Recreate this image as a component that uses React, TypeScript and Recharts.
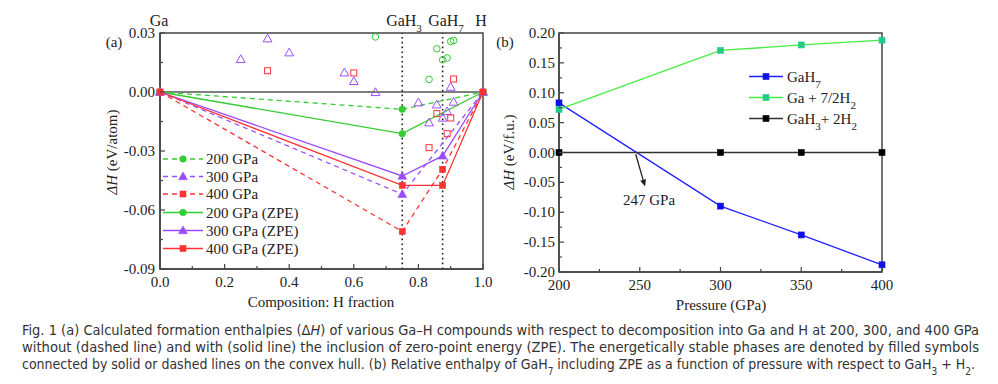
import { ComposedChart, LineChart, Line, Scatter, XAxis, YAxis, ReferenceLine, ReferenceArea } from "recharts";

const serif = "'Liberation Serif', 'Times New Roman', serif";
const narrow = "'Liberation Sans Narrow', 'DejaVu Sans Condensed', 'Liberation Sans', sans-serif";

const green = "#33cc33";
const purple = "#9a4dff";
const red = "#ff3333";
const axisColor = "#444";

// ---- panel (a): convex hull, Ga-H ----
const compTicks = [0, 0.1, 0.2, 0.3, 0.4, 0.5, 0.6, 0.7, 0.8, 0.9, 1];
const atomTicks = [-0.09, -0.075, -0.06, -0.045, -0.03, -0.015, 0, 0.015, 0.03];
const phaseLines = [0.75, 0.875];

const hull200 = [{ x: 0, y: 0 }, { x: 0.75, y: -0.0088 }, { x: 1, y: 0 }];
const hull300 = [{ x: 0, y: 0 }, { x: 0.75, y: -0.052 }, { x: 1, y: 0 }];
const hull400 = [{ x: 0, y: 0 }, { x: 0.75, y: -0.0709 }, { x: 0.875, y: -0.0393 }, { x: 1, y: 0 }];
const hull200zpe = [{ x: 0, y: 0 }, { x: 0.75, y: -0.0212 }, { x: 1, y: 0 }];
const hull300zpe = [{ x: 0, y: 0 }, { x: 0.75, y: -0.0427 }, { x: 0.875, y: -0.0325 }, { x: 1, y: 0 }];
const hull400zpe = [{ x: 0, y: 0 }, { x: 0.75, y: -0.0475 }, { x: 0.875, y: -0.0475 }, { x: 1, y: 0 }];

const open200 = [
  { x: 0.667, y: 0.028 }, { x: 0.833, y: 0.0064 }, { x: 0.857, y: 0.022 }, { x: 0.875, y: 0.0164 },
  { x: 0.889, y: 0.0173 }, { x: 0.9, y: 0.0257 }, { x: 0.909, y: 0.0262 },
];
const open300 = [
  { x: 0.25, y: 0.0166 }, { x: 0.333, y: 0.0271 }, { x: 0.4, y: 0.02 }, { x: 0.571, y: 0.0098 },
  { x: 0.6, y: 0.0054 }, { x: 0.667, y: -0.0002 }, { x: 0.8, y: -0.0054 }, { x: 0.857, y: -0.0065 },
  { x: 0.9, y: 0.0025 }, { x: 0.909, y: -0.0051 }, { x: 0.833, y: -0.0156 }, { x: 0.875, y: -0.0132 },
  { x: 0.889, y: -0.0099 },
];
const open400 = [
  { x: 0.333, y: 0.0108 }, { x: 0.6, y: 0.0097 }, { x: 0.909, y: 0.0066 }, { x: 0.857, y: -0.011 },
  { x: 0.9, y: -0.0132 }, { x: 0.889, y: -0.0212 }, { x: 0.833, y: -0.0283 },
];

const hullSeries = [
  { name: "200 GPa", data: hull200, color: green, dash: "5 4", kind: "circle" },
  { name: "300 GPa", data: hull300, color: purple, dash: "5 4", kind: "triangle" },
  { name: "400 GPa", data: hull400, color: red, dash: "5 4", kind: "square" },
  { name: "200 GPa (ZPE)", data: hull200zpe, color: green, dash: undefined, kind: "circle" },
  { name: "300 GPa (ZPE)", data: hull300zpe, color: purple, dash: undefined, kind: "triangle" },
  { name: "400 GPa (ZPE)", data: hull400zpe, color: red, dash: undefined, kind: "square" },
];

const openSeries = [
  { data: open200, color: green, kind: "circle" },
  { data: open300, color: purple, kind: "triangle" },
  { data: open400, color: red, kind: "square" },
];

// ---- panel (b): relative enthalpy vs pressure ----
const pressures = [200, 300, 350, 400];
const gah7 = [0.083, -0.0897, -0.138, -0.188];
const gaPlusH2 = [0.072, 0.1708, 0.18, 0.188];
const gah3PlusH2 = [0, 0, 0, 0];
const pressureTicks = [200, 225, 250, 275, 300, 325, 350, 375, 400];
const fuTicks = [-0.2, -0.175, -0.15, -0.125, -0.1, -0.075, -0.05, -0.025, 0, 0.025, 0.05, 0.075, 0.1, 0.125, 0.15, 0.175, 0.2];
const crossing = [{ x: 247.5, y: -0.003 }, { x: 253.3, y: -0.057 }];

const tableB = pressures.map((p, i) => ({ p, gah7: gah7[i], ga: gaPlusH2[i], gah3: gah3PlusH2[i] }));

function Mark({ cx, cy, kind, color, open, fill }: any) {
  const f = open ? "none" : fill || color;
  const sw = open ? 1 : 0.6;
  if (cx == null || cy == null) return null;
  if (kind === "circle") return <circle cx={cx} cy={cy} r={3.3} fill={f} stroke={color} strokeWidth={sw} />;
  if (kind === "triangle")
    return (
      <polygon
        points={`${cx},${cy - 4.6} ${cx - 4.4},${cy + 3.2} ${cx + 4.4},${cy + 3.2}`}
        fill={f}
        stroke={color}
        strokeWidth={sw}
      />
    );
  return <rect x={cx - 3} y={cy - 3} width={6} height={6} fill={f} stroke={color} strokeWidth={sw} />;
}

function makeLeftTick(digits: number, margin: number) {
  return (props: any) => {
    const { x, y, payload, index } = props;
    const ax = x + margin;
    const major = index % 2 === 0;
    return (
      <g>
        <line x1={ax} x2={ax + (major ? 5 : 3)} y1={y} y2={y} stroke={axisColor} strokeWidth={1.2} />
        {major && (
          <text x={x} y={y + 5} textAnchor="end" fontFamily={serif} fontSize={15} fill="#222">
            {payload.value.toFixed(digits)}
          </text>
        )}
      </g>
    );
  };
}

function makeBottomTick(fmt: (v: number) => string, margin: number) {
  return (props: any) => {
    const { x, y, payload, index } = props;
    const ay = y - margin;
    const major = index % 2 === 0;
    return (
      <g>
        <line x1={x} x2={x} y1={ay} y2={ay - (major ? 5 : 3)} stroke={axisColor} strokeWidth={1.2} />
        {major && (
          <text x={x} y={ay + 18} textAnchor="middle" fontFamily={serif} fontSize={15} fill="#222">
            {fmt(payload.value)}
          </text>
        )}
      </g>
    );
  };
}

function ArrowShape(props: any) {
  const { x1, y1, x2, y2 } = props;
  const ang = Math.atan2(y2 - y1, x2 - x1);
  const len = 7;
  const w = 3;
  const bx = x2 - len * Math.cos(ang);
  const by = y2 - len * Math.sin(ang);
  const px = -Math.sin(ang) * w;
  const py = Math.cos(ang) * w;
  return (
    <g>
      <line x1={x1} y1={y1} x2={bx} y2={by} stroke="#222" strokeWidth={1.3} />
      <polygon points={`${x2},${y2} ${bx + px},${by + py} ${bx - px},${by - py}`} fill="#222" />
    </g>
  );
}

function ChartA() {
  return (
    <ComposedChart width={500} height={310} margin={{ top: 33, right: 17, bottom: 11, left: 100 }}>
      <XAxis
        type="number"
        dataKey="x"
        domain={[0, 1]}
        ticks={compTicks}
        interval={0}
        tickSize={0}
        tickMargin={8}
        tickLine={false}
        height={30}
        axisLine={{ stroke: axisColor, strokeWidth: 1.5 }}
        tick={makeBottomTick((v) => v.toFixed(1), 8)}
      />
      <YAxis
        type="number"
        dataKey="y"
        domain={[-0.09, 0.03]}
        ticks={atomTicks}
        interval={0}
        tickSize={0}
        tickMargin={5}
        tickLine={false}
        width={60}
        axisLine={{ stroke: axisColor, strokeWidth: 1.5 }}
        tick={makeLeftTick(2, 5)}
      />
      <ReferenceArea x1={0} x2={1} y1={-0.09} y2={0.03} fill="none" stroke={axisColor} strokeWidth={1.5} />
      <ReferenceLine y={0} stroke="#555" strokeWidth={1.4} />
      {phaseLines.map((v) => (
        <ReferenceLine key={v} x={v} stroke="#222" strokeWidth={1.6} strokeDasharray="1.6 3.2" />
      ))}
      {openSeries.map((s, i) => (
        <Scatter
          key={"o" + i}
          data={s.data}
          isAnimationActive={false}
          shape={(p: any) => <Mark cx={p.cx} cy={p.cy} kind={s.kind} color={s.color} open />}
        />
      ))}
      {hullSeries.map((s) => (
        <Line
          key={s.name}
          data={s.data}
          dataKey="y"
          type="linear"
          stroke={s.color}
          strokeWidth={1.3}
          strokeDasharray={s.dash}
          isAnimationActive={false}
          dot={(p: any) => <Mark key={s.name + p.index} cx={p.cx} cy={p.cy} kind={s.kind} color={s.color} />}
          activeDot={false}
        />
      ))}
    </ComposedChart>
  );
}

const seriesB = [
  { key: "gah7", color: "#2020ff", markColor: "#1010ee", label: "GaH7" },
  { key: "ga", color: "#44ee44", markColor: "#22cc88", label: "Ga + 7/2H2" },
  { key: "gah3", color: "#333", markColor: "#000", label: "GaH3+ 2H2" },
];

function ChartB() {
  return (
    <LineChart width={420} height={310} data={tableB} margin={{ top: 33, right: 18, bottom: 8, left: 19 }}>
      <XAxis
        type="number"
        dataKey="p"
        domain={[200, 400]}
        ticks={pressureTicks}
        interval={0}
        tickSize={0}
        tickMargin={8}
        tickLine={false}
        height={30}
        axisLine={{ stroke: axisColor, strokeWidth: 1.5 }}
        tick={makeBottomTick((v) => String(v), 8)}
      />
      <YAxis
        type="number"
        domain={[-0.2, 0.2]}
        ticks={fuTicks}
        interval={0}
        tickSize={0}
        tickMargin={4}
        tickLine={false}
        width={60}
        axisLine={{ stroke: axisColor, strokeWidth: 1.5 }}
        tick={makeLeftTick(2, 4)}
      />
      <ReferenceArea x1={200} x2={400} y1={-0.2} y2={0.2} fill="none" stroke={axisColor} strokeWidth={1.5} />
      {seriesB.map((s) => (
        <Line
          key={s.key}
          dataKey={s.key}
          type="linear"
          stroke={s.color}
          strokeWidth={1.3}
          isAnimationActive={false}
          dot={(p: any) => <Mark key={s.key + p.index} cx={p.cx} cy={p.cy} kind="square" color={s.markColor} />}
          activeDot={false}
        />
      ))}
      <ReferenceLine segment={crossing} shape={ArrowShape} ifOverflow="visible" />
    </LineChart>
  );
}

function Sub({ children, size = 11 }: any) {
  return (
    <tspan baselineShift="sub" fontSize={size}>{children}</tspan>
  );
}

function Overlay() {
  const t = { fontFamily: serif, fill: "#222" } as const;
  const legendRowsA = [159, 176.5, 194, 212.5, 230.5, 248.5];
  const legendRowsB = [76.5, 97.5, 118.5];
  return (
    <svg width={998} height={384} style={{ position: "absolute", left: 0, top: 0, pointerEvents: "none" }}>
      {/* headings */}
      <text x={159} y={26} textAnchor="middle" fontSize={16} {...t}>Ga</text>
      <text x={404} y={26} textAnchor="middle" fontSize={16} {...t}>GaH<Sub>3</Sub></text>
      <text x={446} y={26} textAnchor="middle" fontSize={16} {...t}>GaH<Sub>7</Sub></text>
      <text x={481} y={26} textAnchor="middle" fontSize={16} {...t}>H</text>
      <text x={114} y={47} textAnchor="middle" fontSize={15} {...t}>(a)</text>
      <text x={505} y={47} textAnchor="middle" fontSize={15} {...t}>(b)</text>

      {/* axis titles */}
      <text transform="translate(117,152) rotate(-90)" textAnchor="middle" fontSize={15} {...t}>
        <tspan fontStyle="italic">ΔH</tspan> (eV/atom)
      </text>
      <text x={321} y={307} textAnchor="middle" fontSize={15} {...t}>Composition: H fraction</text>
      <text transform="translate(514,152) rotate(-90)" textAnchor="middle" fontSize={15} {...t}>
        <tspan fontStyle="italic">ΔH</tspan> (eV/f.u.)
      </text>
      <text x={721} y={310} textAnchor="middle" fontSize={15} {...t}>Pressure (GPa)</text>
      <text x={623} y={205} fontSize={15} {...t}>247 GPa</text>

      {/* legend (a) */}
      {hullSeries.map((s, i) => (
        <g key={s.name}>
          <line x1={163} x2={203} y1={legendRowsA[i]} y2={legendRowsA[i]} stroke={s.color} strokeWidth={1.3} strokeDasharray={s.dash} />
          <Mark cx={183} cy={legendRowsA[i]} kind={s.kind} color={s.color} />
          <text x={206} y={legendRowsA[i] + 5} fontSize={15} {...t}>{s.name}</text>
        </g>
      ))}

      {/* legend (b) */}
      {seriesB.map((s, i) => (
        <g key={s.key}>
          <line x1={749} x2={783} y1={legendRowsB[i]} y2={legendRowsB[i]} stroke={s.color} strokeWidth={1.3} />
          <Mark cx={766} cy={legendRowsB[i]} kind="square" color={s.markColor} />
        </g>
      ))}
      <text x={787} y={legendRowsB[0] + 5} fontSize={15} {...t}>GaH<Sub>7</Sub></text>
      <text x={787} y={legendRowsB[1] + 5} fontSize={15} {...t}>Ga + 7/2H<Sub>2</Sub></text>
      <text x={787} y={legendRowsB[2] + 5} fontSize={15} {...t}>GaH<Sub>3</Sub>+ 2H<Sub>2</Sub></text>

      {/* caption */}
      <g fontFamily={narrow} fontSize={14} fill="#333">
        <text x={22} y={335} textLength={957} lengthAdjust="spacingAndGlyphs">
          Fig. 1   (a) Calculated formation enthalpies (Δ<tspan fontStyle="italic">H</tspan>) of various Ga–H compounds with respect to decomposition into Ga and H at 200, 300, and 400 GPa
        </text>
        <text x={22} y={352} textLength={957} lengthAdjust="spacingAndGlyphs">
          without (dashed line) and with (solid line) the inclusion of zero-point energy (ZPE). The energetically stable phases are denoted by filled symbols
        </text>
        <text x={22} y={369} textLength={953} lengthAdjust="spacingAndGlyphs">
          connected by solid or dashed lines on the convex hull. (b) Relative enthalpy of GaH<Sub size={10}>7</Sub> including ZPE as a function of pressure with respect to GaH<Sub size={10}>3</Sub> + H<Sub size={10}>2</Sub>.
        </text>
      </g>
    </svg>
  );
}

export default function App() {
  return (
    <div style={{ position: "absolute", left: 0, top: 0, width: 998, height: 384, background: "#fff", overflow: "hidden" }}>
      <div style={{ position: "absolute", left: 0, top: 0 }}>
        <ChartA />
      </div>
      <div style={{ position: "absolute", left: 480, top: 0 }}>
        <ChartB />
      </div>
      <Overlay />
    </div>
  );
}
